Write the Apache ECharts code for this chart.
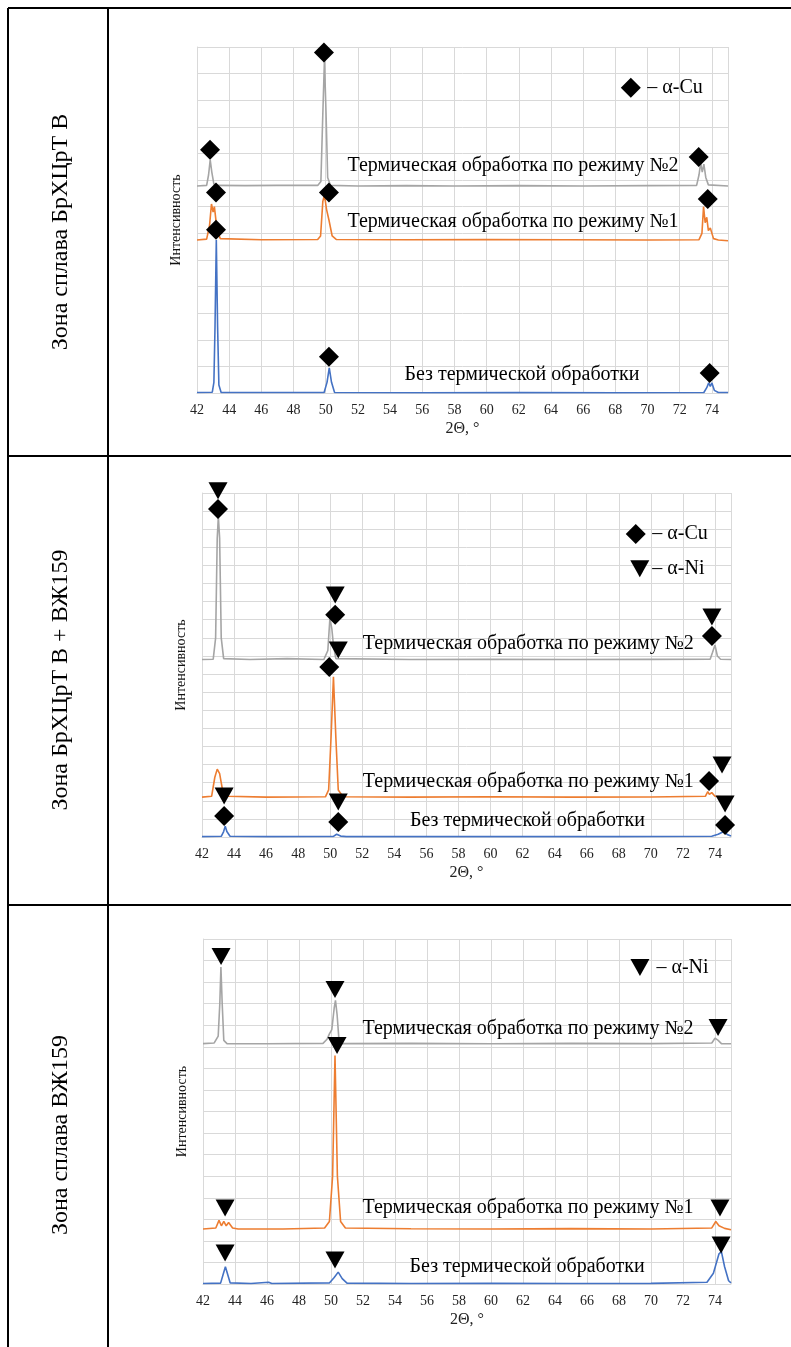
<!DOCTYPE html>
<html>
<head>
<meta charset="utf-8">
<script src="https://cdn.jsdelivr.net/npm/echarts@6/dist/echarts.min.js"></script>
<style>
html,body{margin:0;padding:0;background:#fff;}
#c{width:791px;height:1347px;}
</style>
</head>
<body>
<div id="c"></div>
<script>
// ---------- DATA ----------
const xMin = 42, xMax = 75, xStep = 2;
const rowLabels = ['Зона сплава БрХЦрТ В', 'Зона БрХЦрТ В + ВЖ159', 'Зона сплава ВЖ159'];
const seriesNames = ['Термическая обработка по режиму №2', 'Термическая обработка по режиму №1', 'Без термической обработки'];
const xName = '2Θ, °';
const yName = 'Интенсивность';
const yMax = [13, 19, 16];

// Chart 1 (БрХЦрТ В)
const c1Gray = [[42,7.78],[42.6,7.8],[42.72,8.2],[42.82,8.76],[42.92,8.3],[43.05,7.85],[43.2,7.8],[45,7.79],[47,7.8],[49.5,7.8],[49.7,7.95],[49.82,10.5],[49.92,12.5],[50.02,10.5],[50.12,8.1],[50.3,7.8],[52,7.78],[55,7.79],[58,7.78],[62,7.79],[66,7.78],[70,7.79],[73.05,7.8],[73.2,8.2],[73.3,8.65],[73.4,8.3],[73.5,8.6],[73.62,8.1],[73.78,7.82],[75,7.78]];
const c1Orange = [[42,5.75],[42.6,5.78],[42.78,6.3],[42.9,7.1],[43.0,6.8],[43.08,7.0],[43.25,6.1],[43.45,5.8],[46,5.76],[49.5,5.77],[49.68,5.9],[49.82,7.2],[49.92,7.44],[50.05,6.9],[50.2,6.5],[50.4,5.9],[50.65,5.77],[55,5.76],[60,5.77],[65,5.76],[70,5.75],[73.2,5.76],[73.38,6.0],[73.48,7.0],[73.58,6.4],[73.68,6.6],[73.78,6.1],[73.9,6.2],[74.1,5.8],[74.4,5.75],[75,5.72]];
const c1Blue = [[42,0.02],[42.95,0.03],[43.05,0.4],[43.12,2.5],[43.2,5.75],[43.28,2.5],[43.36,0.3],[43.5,0.02],[46,0.02],[49.9,0.02],[50.08,0.4],[50.22,0.94],[50.36,0.4],[50.55,0.02],[56,0.01],[62,0.02],[68,0.01],[73.5,0.02],[73.68,0.2],[73.8,0.38],[73.9,0.25],[74.0,0.38],[74.15,0.1],[74.4,0.02],[75,0.02]];
const c1Diamonds = [[42.81,9.14],[49.89,12.79],[43.18,7.53],[50.2,7.53],[43.18,6.13],[50.2,1.36],[73.86,0.75],[73.18,8.87],[73.74,7.29],[68.96,11.47]];
const c1Triangles = [];
const c1Texts = [[51.32,8.53,seriesNames[0]],[51.32,6.43,seriesNames[1]],[54.86,0.68,seriesNames[2]],[69.95,11.47,'– α-Cu']];

// Chart 2 (БрХЦрТ В + ВЖ159)
const c2Gray = [[42,9.8],[42.7,9.82],[42.85,11],[42.95,16.5],[43.02,17.7],[43.1,16.5],[43.2,11],[43.35,9.85],[45,9.8],[47.3,9.85],[49.6,9.8],[49.85,10.3],[49.98,12.1],[50.1,11.5],[50.2,10.6],[50.35,9.85],[55,9.8],[60,9.82],[65,9.8],[70,9.81],[73.7,9.82],[73.85,10.2],[74.0,10.6],[74.15,10.0],[74.35,9.82],[75,9.8]];
const c2Orange = [[42,2.2],[42.6,2.25],[42.8,3.3],[42.95,3.75],[43.1,3.5],[43.3,2.5],[43.6,2.25],[46,2.2],[49.7,2.22],[49.9,2.6],[50.05,5.5],[50.2,8.85],[50.35,5.5],[50.5,2.6],[50.8,2.22],[55,2.2],[60,2.22],[65,2.2],[70,2.21],[73.4,2.25],[73.55,2.5],[73.65,2.35],[73.8,2.45],[74,2.25],[74.4,2.22],[75,2.18]];
const c2Blue = [[42,0.02],[43.2,0.04],[43.35,0.3],[43.45,0.6],[43.55,0.3],[43.75,0.04],[46,0.02],[50.2,0.03],[50.4,0.15],[50.5,0.2],[50.65,0.05],[51,0.02],[56,0.02],[62,0.03],[68,0.02],[73.8,0.04],[74.2,0.15],[74.55,0.3],[74.8,0.12],[75,0.05]];
const c2Diamonds = [[43.0,18.12],[50.31,12.27],[49.94,9.39],[73.81,11.1],[69.06,16.74],[43.38,1.16],[50.5,0.83],[73.63,3.09],[74.63,0.66]];
const c2Triangles = [[43.0,19.12],[50.31,13.37],[50.5,10.33],[73.81,12.15],[69.31,14.81],[43.38,2.27],[50.5,1.93],[74.44,3.98],[74.63,1.82]];
const c2Texts = [[52.0,10.66,seriesNames[0]],[52.0,3.04,seriesNames[1]],[54.94,0.88,seriesNames[2]],[70.06,16.74,'– α-Cu'],[70.06,14.81,'– α-Ni']];

// Chart 3 (ВЖ159)
const c3Gray = [[42,11.15],[42.7,11.18],[42.95,11.5],[43.05,13],[43.12,14.7],[43.2,13],[43.3,11.3],[43.5,11.15],[46,11.14],[49.5,11.16],[49.75,11.35],[49.9,11.6],[50.05,11.8],[50.2,12.8],[50.28,13.15],[50.38,12.5],[50.5,11.3],[50.7,11.15],[55,11.16],[60,11.14],[65,11.16],[70,11.15],[73.8,11.18],[74.0,11.4],[74.2,11.3],[74.4,11.15],[75,11.14]];
const c3Orange = [[42,2.55],[42.8,2.6],[43.0,2.95],[43.15,2.7],[43.3,2.9],[43.45,2.7],[43.6,2.85],[43.85,2.6],[44.2,2.55],[47,2.55],[49.6,2.6],[49.9,2.9],[50.1,5],[50.25,10.6],[50.4,5],[50.6,2.9],[50.9,2.6],[55,2.56],[60,2.55],[65,2.57],[70,2.55],[73.8,2.6],[74.05,2.9],[74.25,2.7],[74.6,2.58],[75,2.52]];
const c3Blue = [[42,0.02],[43.1,0.04],[43.28,0.5],[43.4,0.8],[43.52,0.5],[43.7,0.05],[45,0.02],[46.1,0.08],[46.3,0.02],[49.9,0.05],[50.2,0.3],[50.45,0.55],[50.7,0.25],[51,0.04],[55,0.02],[60,0.03],[65,0.02],[70,0.03],[73.5,0.08],[73.9,0.5],[74.25,1.4],[74.4,1.5],[74.6,0.8],[74.85,0.15],[75,0.05]];
const c3Diamonds = [];
const c3Triangles = [[43.13,15.19],[50.25,13.66],[50.38,11.06],[74.19,11.9],[69.31,14.68],[43.38,3.52],[43.38,1.44],[50.25,1.11],[74.31,3.52],[74.38,1.81]];
const c3Texts = [[51.94,11.85,seriesNames[0]],[51.94,3.52,seriesNames[1]],[54.88,0.79,seriesNames[2]],[70.31,14.68,'– α-Ni']];

// ---------- LAYOUT / STYLE ----------
const charts = [
  {grid:{left:197, top:47, width:531, height:346}, gray:c1Gray, orange:c1Orange, blue:c1Blue, dia:c1Diamonds, tri:c1Triangles, txt:c1Texts, label:rowLabels[0], labelY:232},
  {grid:{left:202, top:493, width:529, height:344}, gray:c2Gray, orange:c2Orange, blue:c2Blue, dia:c2Diamonds, tri:c2Triangles, txt:c2Texts, label:rowLabels[1], labelY:680},
  {grid:{left:203, top:939, width:528, height:345}, gray:c3Gray, orange:c3Orange, blue:c3Blue, dia:c3Diamonds, tri:c3Triangles, txt:c3Texts, label:rowLabels[2], labelY:1135}
];
const SERIF = '"Liberation Serif", "DejaVu Serif", serif';
const gridColor = '#D9D9D9';
const colors = {gray:'#A5A5A5', orange:'#ED7D31', blue:'#4472C4'};

const option = {
  animation:false,
  backgroundColor:'#fff',
  grid:[], xAxis:[], yAxis:[], series:[], graphic:[]
};

charts.forEach((c,i)=>{
  option.grid.push(Object.assign({containLabel:false}, c.grid));
  option.xAxis.push({
    type:'value', gridIndex:i, min:xMin, max:xMax, interval:xStep,
    name:xName, nameLocation:'middle', nameGap:28,
    nameTextStyle:{fontFamily:SERIF, fontSize:16, color:'#222'},
    axisLine:{show:true, lineStyle:{color:gridColor}},
    axisTick:{show:false},
    axisLabel:{fontFamily:SERIF, fontSize:14, color:'#222', margin:10, showMaxLabel:false,
      formatter:v=> (v>=xMax? '' : String(v))},
    splitLine:{show:true, lineStyle:{color:gridColor, width:1}}
  });
  option.yAxis.push({
    type:'value', gridIndex:i, min:0, max:yMax[i], interval:1,
    name:yName, nameLocation:'middle', nameGap:14, nameRotate:90,
    nameTextStyle:{fontFamily:SERIF, fontSize:14, color:'#111'},
    axisLine:{show:true, lineStyle:{color:gridColor}},
    axisTick:{show:false},
    axisLabel:{show:false},
    splitLine:{show:true, lineStyle:{color:gridColor, width:1}}
  });
  [['gray',c.gray],['orange',c.orange],['blue',c.blue]].forEach(([k,d])=>{
    option.series.push({
      type:'line', xAxisIndex:i, yAxisIndex:i, data:d, showSymbol:false, symbol:'none',
      lineStyle:{color:colors[k], width:1.6}, z:2, silent:true
    });
  });
  if (c.dia.length) option.series.push({
    type:'scatter', xAxisIndex:i, yAxisIndex:i, data:c.dia, symbol:'diamond', symbolSize:[20,20],
    itemStyle:{color:'#000', opacity:1}, clip:false, z:5, silent:true
  });
  if (c.tri.length) option.series.push({
    type:'scatter', xAxisIndex:i, yAxisIndex:i, data:c.tri, symbol:'triangle', symbolRotate:180, symbolSize:[19,17],
    itemStyle:{color:'#000', opacity:1}, clip:false, z:5, silent:true
  });
  option.series.push({
    type:'scatter', xAxisIndex:i, yAxisIndex:i,
    data:c.txt.map(t=>({value:[t[0],t[1]], name:t[2]})),
    symbolSize:1, itemStyle:{color:'rgba(0,0,0,0)', opacity:1}, clip:false, z:6, silent:true,
    label:{show:true, position:'right', distance:0, formatter:'{b}', fontFamily:SERIF, fontSize:20, color:'#000', opacity:1}
  });
  option.graphic.push({
    type:'text', x:61, y:c.labelY, rotation:Math.PI/2,
    style:{text:c.label, font:'24px '+SERIF, fill:'#000', align:'center', verticalAlign:'middle', textAlign:'center', textVerticalAlign:'middle'}
  });
});

// table lines
const tableLines = [
  [8,8,791,8],[8,456,791,456],[8,905,791,905],
  [8,8,8,1347],[108,8,108,1347]
];
tableLines.forEach(l=>{
  option.graphic.push({type:'line', shape:{x1:l[0],y1:l[1],x2:l[2],y2:l[3]}, style:{stroke:'#000', lineWidth:2}, z:10});
});

const chart = echarts.init(document.getElementById('c'), null, {renderer:'canvas'});
chart.setOption(option);
</script>
</body>
</html>
